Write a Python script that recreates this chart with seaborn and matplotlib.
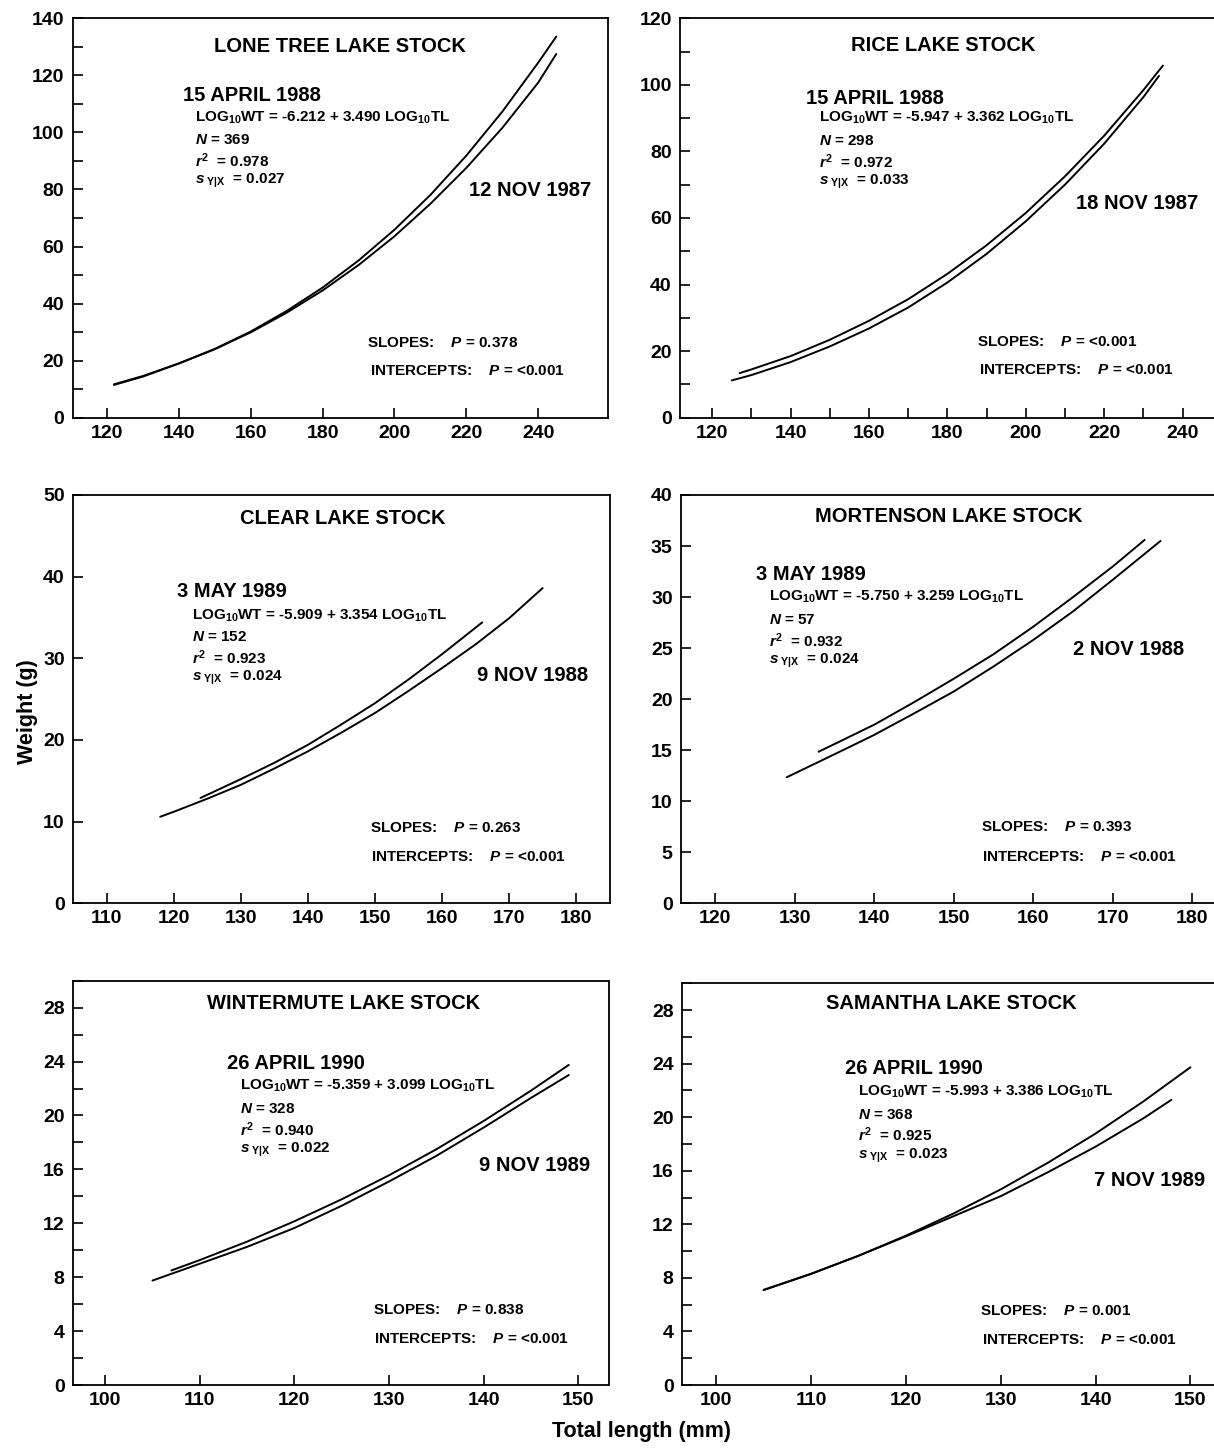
import matplotlib
matplotlib.use("Agg")
import matplotlib.pyplot as plt
from matplotlib.ticker import MultipleLocator
import pandas as pd
import seaborn as sns

# ---- curve readings (total length mm -> weight g) ----
lt_spring_x = [122, 130, 140, 150, 160, 170, 180, 190, 200, 210, 220, 230, 240, 245]
lt_spring_y = [11.7, 14.6, 19.0, 24.1, 30.2, 37.4, 45.6, 55.1, 65.9, 78.1, 91.9, 107.3, 124.5, 133.6]
lt_fall_x = [122, 130, 140, 150, 160, 170, 180, 190, 200, 210, 220, 230, 240, 245]
lt_fall_y = [11.5, 14.4, 19.0, 24.0, 29.9, 36.8, 44.6, 53.5, 63.6, 75.0, 87.6, 101.6, 117.5, 127.5]

rice_spring_x = [127, 130, 140, 150, 160, 170, 180, 190, 200, 210, 220, 230, 235]
rice_spring_y = [13.4, 14.5, 18.5, 23.4, 29.1, 35.6, 43.2, 51.8, 61.5, 72.5, 84.7, 98.4, 105.8]
rice_fall_x = [125, 130, 140, 150, 160, 170, 180, 190, 200, 210, 220, 230, 234]
rice_fall_y = [11.2, 12.8, 16.7, 21.4, 26.8, 33.1, 40.6, 49.2, 59.0, 70.0, 82.3, 96.3, 102.7]

clear_spring_x = [124, 130, 135, 140, 145, 150, 155, 160, 166]
clear_spring_y = [12.9, 15.2, 17.2, 19.4, 21.9, 24.5, 27.4, 30.5, 34.4]
clear_fall_x = [118, 120, 125, 130, 135, 140, 145, 150, 155, 160, 165, 170, 175]
clear_fall_y = [10.6, 11.2, 12.8, 14.5, 16.5, 18.6, 20.9, 23.3, 26.0, 28.8, 31.7, 34.9, 38.6]

mort_spring_x = [133, 135, 140, 145, 150, 155, 160, 165, 170, 174]
mort_spring_y = [14.85, 15.6, 17.5, 19.7, 22.0, 24.4, 27.1, 30.0, 33.0, 35.6]
mort_fall_x = [129, 135, 140, 145, 150, 155, 160, 165, 170, 176]
mort_fall_y = [12.35, 14.6, 16.5, 18.6, 20.75, 23.2, 25.8, 28.6, 31.7, 35.5]

wint_spring_x = [107, 110, 115, 120, 125, 130, 135, 140, 145, 149]
wint_spring_y = [8.5, 9.27, 10.64, 12.15, 13.78, 15.56, 17.49, 19.59, 21.84, 23.75]
wint_fall_x = [105, 110, 115, 120, 125, 130, 135, 140, 145, 149]
wint_fall_y = [7.75, 9.0, 10.25, 11.65, 13.3, 15.1, 17.0, 19.1, 21.3, 23.0]

sam_spring_x = [105, 110, 115, 120, 125, 130, 135, 140, 145, 150]
sam_spring_y = [7.09, 8.30, 9.65, 11.15, 12.8, 14.61, 16.61, 18.78, 21.16, 23.73]
sam_fall_x = [105, 110, 115, 120, 125, 130, 135, 140, 145, 148]
sam_fall_y = [7.1, 8.3, 9.65, 11.1, 12.6, 14.1, 15.9, 17.8, 19.9, 21.3]

# ---- annotations ----
stocks = ["LONE TREE LAKE STOCK", "RICE LAKE STOCK", "CLEAR LAKE STOCK",
          "MORTENSON LAKE STOCK", "WINTERMUTE LAKE STOCK", "SAMANTHA LAKE STOCK"]
spring_dates = ["15 APRIL 1988", "15 APRIL 1988", "3 MAY 1989",
                "3 MAY 1989", "26 APRIL 1990", "26 APRIL 1990"]
fall_dates = ["12 NOV 1987", "18 NOV 1987", "9 NOV 1988",
              "2 NOV 1988", "9 NOV 1989", "7 NOV 1989"]
intercepts = ["-6.212", "-5.947", "-5.909", "-5.750", "-5.359", "-5.993"]
slopes = ["3.490", "3.362", "3.354", "3.259", "3.099", "3.386"]
n_fish = ["369", "298", "152", "57", "328", "368"]
r_sq = ["0.978", "0.972", "0.923", "0.932", "0.940", "0.925"]
s_yx = ["0.027", "0.033", "0.024", "0.024", "0.022", "0.023"]
p_slopes = ["0.378", "<0.001", "0.263", "0.393", "0.838", "0.001"]
p_intercepts = ["<0.001", "<0.001", "<0.001", "<0.001", "<0.001", "<0.001"]

curves = [
    (lt_spring_x, lt_spring_y, lt_fall_x, lt_fall_y),
    (rice_spring_x, rice_spring_y, rice_fall_x, rice_fall_y),
    (clear_spring_x, clear_spring_y, clear_fall_x, clear_fall_y),
    (mort_spring_x, mort_spring_y, mort_fall_x, mort_fall_y),
    (wint_spring_x, wint_spring_y, wint_fall_x, wint_fall_y),
    (sam_spring_x, sam_spring_y, sam_fall_x, sam_fall_y),
]

sns.set_theme(style="ticks")
plt.rcParams['font.family'] = ['Liberation Sans', 'DejaVu Sans']
plt.rcParams['font.weight'] = 'bold'
plt.rcParams['mathtext.fontset'] = 'custom'
plt.rcParams['mathtext.rm'] = 'Liberation Sans:bold'
plt.rcParams['mathtext.it'] = 'Liberation Sans:bold:italic'
plt.rcParams['mathtext.bf'] = 'Liberation Sans:bold'
for key in ['text.color', 'axes.labelcolor', 'xtick.color', 'ytick.color',
            'xtick.labelcolor', 'ytick.labelcolor', 'axes.edgecolor']:
    plt.rcParams[key] = 'black'

W, H = 1214, 1455
fig = plt.figure(figsize=(W / 100, H / 100), dpi=100)


def rect(l, r, t, b):
    return [l / W, 1 - b / H, (r - l) / W, (b - t) / H]


# layout per panel: axes box (px), limits, tick steps, text positions (axes fraction)
layout = [
    dict(box=(72.7, 607.7, 18.3, 417.7), xlim=(110.5, 259.3), ylim=(0, 140), xmaj=20, xmin=None, ymaj=20, ymin=10,
         title=(.50, .93), date=(.206, .806), eq=(.228, .752), rows=(.696, .643, .594), fall=(.970, .569),
         sl=(.551, .187), ic=(.555, .116)),
    dict(box=(680, 1217, 18.3, 417.7), xlim=(111.8, 248.8), ylim=(0, 120), xmaj=20, xmin=10, ymaj=20, ymin=10,
         title=(.49, .932), date=(.235, .80), eq=(.258, .752), rows=(.692, .640, .590), fall=(.966, .537),
         sl=(.553, .19), ic=(.556, .12)),
    dict(box=(73, 609.7, 495, 903.3), xlim=(105, 185), ylim=(0, 50), xmaj=10, xmin=None, ymaj=10, ymin=None,
         title=(.503, .943), date=(.194, .763), eq=(.221, .705), rows=(.652, .602, .552), fall=(.96, .559),
         sl=(.553, .184), ic=(.556, .114)),
    dict(box=(681, 1217, 495, 903.3), xlim=(115.7, 183.1), ylim=(0, 40), xmaj=10, xmin=None, ymaj=5, ymin=None,
         title=(.499, .948), date=(.139, .805), eq=(.164, .751), rows=(.695, .644, .594), fall=(.938, .621),
         sl=(.559, .186), ic=(.562, .114)),
    dict(box=(73, 608.5, 980.7, 1385), xlim=(96.6, 153.2), ylim=(0, 30), xmaj=10, xmin=None, ymaj=4, ymin=2,
         title=(.505, .944), date=(.288, .794), eq=(.311, .741), rows=(.683, .631, .581), fall=(.965, .544),
         sl=(.561, .185), ic=(.563, .114)),
    dict(box=(682, 1217, 983.3, 1385), xlim=(96.4, 152.8), ylim=(0, 30), xmaj=10, xmin=None, ymaj=4, ymin=2,
         title=(.503, .950), date=(.305, .788), eq=(.329, .730), rows=(.673, .622, .570), fall=(.978, .510),
         sl=(.557, .184), ic=(.56, .112)),
]

big = 14.5
small = 11
tick_size = 14

for i, lay in enumerate(layout):
    ax = fig.add_axes(rect(*lay['box']))
    sx, sy, fx, fy = curves[i]
    df = pd.concat([
        pd.DataFrame({'length': sx, 'weight': sy, 'date': spring_dates[i]}),
        pd.DataFrame({'length': fx, 'weight': fy, 'date': fall_dates[i]}),
    ])
    sns.lineplot(data=df, x='length', y='weight', units='date', estimator=None,
                 color='black', lw=1.4, ax=ax, legend=False)

    ax.set_xlim(*lay['xlim'])
    ax.set_ylim(*lay['ylim'])
    ax.xaxis.set_major_locator(MultipleLocator(lay['xmaj']))
    ax.yaxis.set_major_locator(MultipleLocator(lay['ymaj']))
    if lay['xmin']:
        ax.xaxis.set_minor_locator(MultipleLocator(lay['xmin']))
    if lay['ymin']:
        ax.yaxis.set_minor_locator(MultipleLocator(lay['ymin']))
    ax.tick_params(which='both', direction='in', length=7, width=1.2, color='black',
                   top=False, right=False)
    ax.tick_params(axis='x', which='major', pad=5, labelsize=tick_size, labelcolor='black')
    ax.tick_params(axis='y', which='major', pad=6, labelsize=tick_size, labelcolor='black')
    for lab in ax.get_xticklabels() + ax.get_yticklabels():
        lab.set_fontweight('bold')
    for sp in ax.spines.values():
        sp.set_visible(True)
        sp.set_linewidth(1.3)
        sp.set_color('black')
    ax.set_xlabel('')
    ax.set_ylabel('')

    tr = ax.transAxes
    kw = dict(transform=tr, va='center', fontweight='bold', color='black')
    ax.text(*lay['title'], stocks[i], ha='center', fontsize=big, **kw)
    ax.text(*lay['date'], spring_dates[i], ha='left', fontsize=big, **kw)
    ex, ey = lay['eq']
    ax.text(ex, ey, r"LOG$_{10}$WT = " + intercepts[i] + " + " + slopes[i] + r" LOG$_{10}$TL",
            ha='left', fontsize=small, **kw)
    r1, r2, r3 = lay['rows']
    ax.text(ex, r1, r"$N$ = " + n_fish[i], ha='left', fontsize=small, **kw)
    ax.text(ex, r2, r"$r^{2}$  = " + r_sq[i], ha='left', fontsize=small, **kw)
    ax.text(ex, r3, r"$s_{\ \mathrm{Y|X}}$  = " + s_yx[i], ha='left', fontsize=small, **kw)
    ax.text(*lay['fall'], fall_dates[i], ha='right', fontsize=big, **kw)
    ax.text(*lay['sl'], r"SLOPES:    $P$ = " + p_slopes[i], ha='left', fontsize=small, **kw)
    ax.text(*lay['ic'], r"INTERCEPTS:    $P$ = " + p_intercepts[i], ha='left', fontsize=small, **kw)

fig.text(28 / W, 1 - 712 / H, "Weight (g)", rotation=90, ha='center', va='center',
         fontsize=15.5, fontweight='bold', color='black')
fig.text(641 / W, 1 - 1432 / H, "Total length (mm)", ha='center', va='center',
         fontsize=15.5, fontweight='bold', color='black')

fig.savefig("out.png", dpi=100)
